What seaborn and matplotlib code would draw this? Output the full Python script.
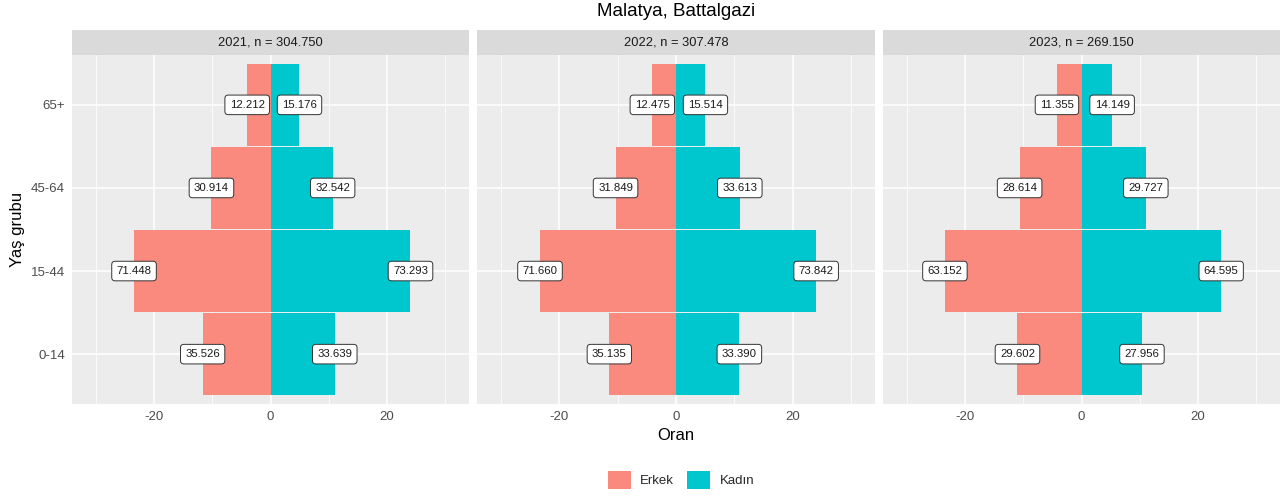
import numpy as np
import pandas as pd
import matplotlib
matplotlib.use("Agg")
import matplotlib.pyplot as plt
from matplotlib.patches import Patch
import seaborn as sns

# ── data ────────────────────────────────────────────────────────────
AGE_GROUPS = ["65+", "45-64", "15-44", "0-14"]      # top to bottom
YEARS = [2021, 2022, 2023]
TOTALS = [304.750, 307.478, 269.150]                 # n, in thousands

# counts per age group (same order as AGE_GROUPS)
MALE_2021 = [12.212, 30.914, 71.448, 35.526]
FEMALE_2021 = [15.176, 32.542, 73.293, 33.639]
MALE_2022 = [12.475, 31.849, 71.660, 35.135]
FEMALE_2022 = [15.514, 33.613, 73.842, 33.390]
MALE_2023 = [11.355, 28.614, 63.152, 29.602]
FEMALE_2023 = [14.149, 29.727, 64.595, 27.956]

SEXES = ["Erkek", "Kadın"]
COLORS = {"Erkek": "#FA8A7E", "Kadın": "#00C6CE"}

male = {2021: MALE_2021, 2022: MALE_2022, 2023: MALE_2023}
female = {2021: FEMALE_2021, 2022: FEMALE_2022, 2023: FEMALE_2023}

rows = []
for year, total in zip(YEARS, TOTALS):
    for i, age in enumerate(AGE_GROUPS):
        rows.append({"year": year, "total": total, "age": age, "sex": "Erkek",
                     "count": male[year][i], "oran": -male[year][i] / total * 100})
        rows.append({"year": year, "total": total, "age": age, "sex": "Kadın",
                     "count": female[year][i], "oran": female[year][i] / total * 100})
df = pd.DataFrame(rows)

# ── style (ggplot-ish) ──────────────────────────────────────────────
sns.set_style("white")
plt.rcParams["font.family"] = ["Liberation Sans", "DejaVu Sans"]

W, H = 1283, 496
fig = plt.figure(figsize=(W / 100, H / 100), dpi=100)

panel_x = [(72, 469), (477, 875), (883, 1280)]
panel_top, panel_bot = 55, 404
strip_top = 30

GREY_TXT = "#4D4D4D"
XLIM = (-34.1, 34.1)

axes = []
for (x0, x1), year, total in zip(panel_x, YEARS, TOTALS):
    ax = fig.add_axes([x0 / W, 1 - panel_bot / H, (x1 - x0) / W,
                       (panel_bot - panel_top) / H])
    axes.append(ax)
    sub = df[df["year"] == year]

    ax.set_facecolor("#ECECEC")
    # grid: major every 20, minor halfway
    for v in [-30, -10, 10, 30]:
        ax.axvline(v, color="white", lw=0.55, zorder=0)
    for v in [-20, 0, 20]:
        ax.axvline(v, color="white", lw=1.1, zorder=0)
    for i in range(len(AGE_GROUPS)):
        ax.axhline(i, color="white", lw=1.1, zorder=0)

    sns.barplot(data=sub, x="oran", y="age", hue="sex", order=AGE_GROUPS,
                hue_order=SEXES, palette=COLORS, orient="h", dodge=False,
                width=0.98, legend=False, saturation=1, ax=ax, zorder=2,
                linewidth=0, edgecolor="none")

    # value labels at the bar ends
    for _, r in sub.iterrows():
        yi = AGE_GROUPS.index(r["age"])
        ax.text(r["oran"], yi, f"{r['count']:.3f}", ha="center", va="center",
                fontsize=8.2, color="#1A1A1A", zorder=4,
                bbox=dict(boxstyle="round,pad=0.42,rounding_size=0.3",
                          fc="white", ec="#333333", lw=0.7))

    ax.set_xlim(*XLIM)
    ax.set_ylim(3.6, -0.6)
    ax.set_xticks([-20, 0, 20])
    ax.set_xticklabels(["-20", "0", "20"])
    ax.set_xlabel("")
    ax.set_ylabel("")
    for s in ax.spines.values():
        s.set_visible(False)
    ax.tick_params(axis="both", length=3, width=0.8, color="#333333",
                   labelsize=9.5, labelcolor=GREY_TXT, pad=2)
    if ax is not axes[0]:
        ax.set_yticklabels([])
        ax.tick_params(axis="y", length=0)

    # facet strip
    sax = fig.add_axes([x0 / W, 1 - panel_top / H, (x1 - x0) / W,
                        (panel_top - strip_top) / H])
    sax.set_facecolor("#DADADA")
    sax.set_xticks([])
    sax.set_yticks([])
    for s in sax.spines.values():
        s.set_visible(False)
    n_txt = f"{total:.3f}"
    sax.text(0.5, 0.5, f"{year}, n = {n_txt}", ha="center", va="center",
             fontsize=9.3, color="#1A1A1A", transform=sax.transAxes)

fig.text(676 / W, 1 - 12 / H, "Malatya, Battalgazi", ha="center",
         va="center", fontsize=13.5, color="black")
fig.text(676 / W, 1 - 435 / H, "Oran", ha="center", va="center",
         fontsize=12, color="black")
fig.text(18 / W, 1 - 229 / H, "Yaş grubu", ha="center", va="center",
         rotation=90, fontsize=12, color="black")

handles = [Patch(facecolor=COLORS[s], edgecolor="none", label=s) for s in SEXES]
fig.legend(handles=handles, loc="center", bbox_to_anchor=(681 / W, 1 - 480 / H),
           ncol=2, frameon=False, fontsize=9.5, handlelength=1.75,
           handleheight=1.75, handletextpad=0.7, columnspacing=1.0)

fig.savefig("out.png", dpi=100)
